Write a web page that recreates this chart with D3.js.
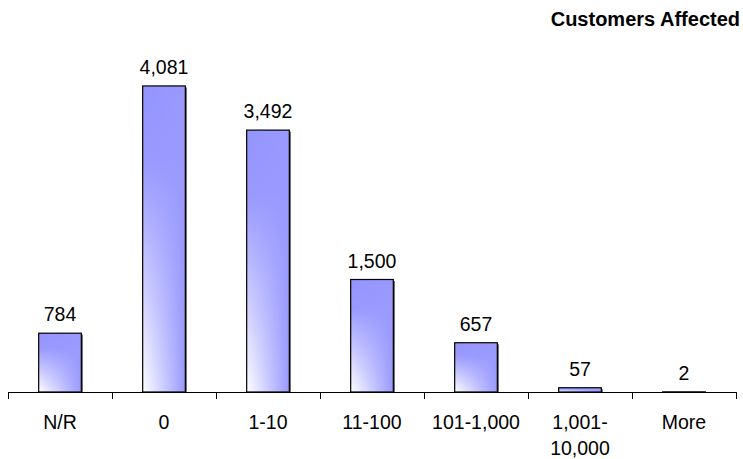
<!DOCTYPE html>
<html>
<head>
<meta charset="utf-8">
<script src="https://cdn.jsdelivr.net/npm/d3@7"></script>
<style>
  body { margin: 0; background: #fff; }
  svg text { font-family: Arial, "Liberation Sans", sans-serif; fill: #000; }
</style>
</head>
<body>
<main></main>
<script>
// customers affected per outage bucket
const categories = ["N/R", "0", "1-10", "11-100", "101-1,000", "1,001-\n10,000", "More"];
const counts = [784, 4081, 3492, 1500, 657, 57, 2];
const chartTitle = "Customers Affected";

const width = 743, height = 459;
const fmt = d3.format(",");

const svg = d3.select("main")
  .append("svg")
  .attr("width", width)
  .attr("height", height);

// gradients: white bottom-left corner fading into blue
const defs = svg.append("defs");
const vg = defs.append("linearGradient").attr("id", "vgrad")
  .attr("x1", 0).attr("y1", 0).attr("x2", 0).attr("y2", 1);
vg.append("stop").attr("offset", "0%").attr("stop-color", "#9494ff");
vg.append("stop").attr("offset", "25%").attr("stop-color", "#9999ff");
vg.append("stop").attr("offset", "100%").attr("stop-color", "#ffffff");
const hg = defs.append("linearGradient").attr("id", "hgrad")
  .attr("x1", 0).attr("y1", 0).attr("x2", 1).attr("y2", 0);
hg.append("stop").attr("offset", "0%").attr("stop-color", "#9999ff").attr("stop-opacity", 0);
hg.append("stop").attr("offset", "100%").attr("stop-color", "#9999ff").attr("stop-opacity", 1);

const xScale = d3.scaleBand()
  .domain(categories)
  .range([8, 736])
  .paddingInner(0.59)
  .paddingOuter(0.295);

const yScale = d3.scaleLinear()
  .domain([0, 5000])
  .range([392, 17]);

// bars
const bars = svg.selectAll(".bar")
  .data(counts)
  .enter()
  .append("g")
  .attr("class", "bar");

// little shadow on the right side
bars.append("rect")
  .attr("x", (d, i) => xScale(categories[i]) + 1.5)
  .attr("y", d => yScale(d) + 1.5)
  .attr("width", xScale.bandwidth())
  .attr("height", d => Math.max(0, yScale(0) - yScale(d) - 1.5))
  .style("fill", "#555");

bars.append("rect")
  .attr("x", (d, i) => xScale(categories[i]))
  .attr("y", d => yScale(d))
  .attr("width", xScale.bandwidth())
  .attr("height", d => yScale(0) - yScale(d))
  .style("fill", "url(#vgrad)");

bars.append("rect")
  .attr("x", (d, i) => xScale(categories[i]))
  .attr("y", d => yScale(d))
  .attr("width", xScale.bandwidth())
  .attr("height", d => yScale(0) - yScale(d))
  .style("fill", "url(#hgrad)")
  .style("stroke", "#000")
  .style("stroke-width", 1.2);

// value labels
svg.selectAll(".val")
  .data(counts)
  .enter()
  .append("text")
  .attr("class", "val")
  .attr("text-anchor", "middle")
  .attr("x", (d, i) => xScale(categories[i]) + xScale.bandwidth() / 2)
  .attr("y", d => yScale(d) - 12)
  .style("font-size", "19.5px")
  .text(d => fmt(d));

// axis with ticks between the categories
const tickScale = d3.scaleLinear()
  .domain([0, categories.length])
  .range([8, 736]);

svg.append("g")
  .attr("id", "x-axis")
  .attr("transform", "translate(0,392)")
  .call(d3.axisBottom(tickScale)
    .tickValues(d3.range(categories.length + 1))
    .tickSize(7)
    .tickSizeOuter(0)
    .tickFormat(""))
  .call(g => g.selectAll("path, line").attr("stroke", "#000"));

// category labels
svg.selectAll(".cat")
  .data(categories)
  .enter()
  .append("text")
  .attr("class", "cat")
  .attr("text-anchor", "middle")
  .attr("transform", d => "translate(" + (xScale(d) + xScale.bandwidth() / 2) + ",429)")
  .style("font-size", "19.5px")
  .each(function(d) {
    d.split("\n").forEach((line, k) => {
      d3.select(this).append("tspan")
        .attr("x", 0)
        .attr("dy", k === 0 ? 0 : 26)
        .text(line);
    });
  });

// title
svg.append("text")
  .attr("id", "title")
  .attr("text-anchor", "end")
  .attr("x", 740)
  .attr("y", 26)
  .style("font-size", "20px")
  .style("font-weight", "bold")
  .text(chartTitle);
</script>
</body>
</html>
